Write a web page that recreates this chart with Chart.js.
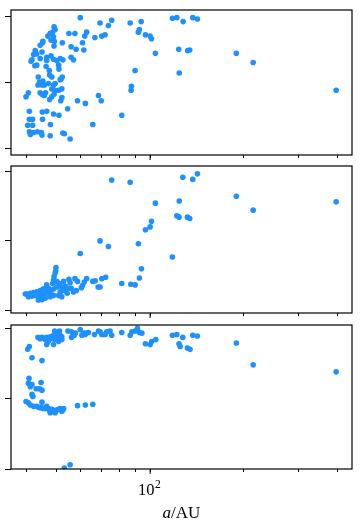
<!DOCTYPE html>
<html>
<head>
<meta charset="utf-8">
<script src="https://cdn.jsdelivr.net/npm/chart.js@4.4.1/dist/chart.umd.min.js"></script>
<style>
  html, body { margin: 0; padding: 0; background: #fff; }
  #wrap { position: relative; width: 363px; height: 528px; }
  #wrap canvas { position: absolute; left: 0; }
</style>
</head>
<body>
<div id="wrap">
  <canvas id="panelTop" width="363" height="160" style="top:0px"></canvas>
  <canvas id="panelMid" width="363" height="158" style="top:160px"></canvas>
  <canvas id="panelBot" width="363" height="210" style="top:318px"></canvas>
</div>
<script>
// ---- data (semi-major axis a in AU, y value per panel)
const aTop = [
  59.7, 69.1, 75.3, 73.5, 86.3, 93.6, 91.7, 92.4, 96.6, 100, 101, 104, 117.9, 121.8, 127.6,
  137, 141.8, 123.5, 132, 134, 124, 189, 214, 395, 89.5, 87.1, 86.9, 81.1, 68.3, 69.7,
  65.5, 62.0, 58.5, 54.4, 55.4, 52.5, 53.1, 51.0, 49.0, 47.9, 47.8, 46.6, 45.1, 45.2, 44.8,
  45.0, 43.5, 41.0, 41.0, 42.0, 40.5, 42.0, 41.0, 41.3, 42.3, 40.0, 40.7, 54.9, 57.4, 62.6,
  61.7, 66.5, 70.0, 71.7, 60.7, 61.3, 55.8, 57.9, 55.8, 56.8, 52.3,
  49.2, 49.6, 48.7, 47.8, 47.0, 49.0, 48.1, 49.3, 49.2, 45.2, 44.4, 45.3, 42.8, 43.3, 42.3,
  41.8, 41.5, 42.7, 43.3, 45.0, 44.4, 46.6, 48.1, 46.6, 49.0, 50.2, 51.5, 52.5, 50.9, 51.0,
  46.4, 47.5, 47.6, 48.4, 49.6, 49.0, 43.8, 44.2, 45.3, 45.0, 43.7, 45.8, 47.2, 48.4, 49.6,
  50.9, 52.1, 51.8, 52.3, 51.5, 44.4, 45.2, 45.8, 47.6, 48.4, 52.1, 51.7, 46.2, 49.2
];
const yTop = [
  0.99, 0.95, 0.97, 0.93, 0.95, 0.96, 0.88, 0.90, 0.86, 0.85, 0.83, 0.72, 0.985, 0.99, 0.96,
  0.99, 0.98, 0.75, 0.74, 0.745, 0.57, 0.72, 0.65, 0.44, 0.59, 0.47, 0.44, 0.25, 0.40, 0.36,
  0.18, 0.34, 0.36, 0.30, 0.07, 0.115, 0.11, 0.25, 0.26, 0.18, 0.095, 0.28, 0.275, 0.22, 0.12,
  0.10, 0.125, 0.28, 0.22, 0.22, 0.175, 0.175, 0.125, 0.105, 0.12, 0.39, 0.42, 0.87, 0.87, 0.88,
  0.85, 0.84, 0.85, 0.86, 0.80, 0.745, 0.77, 0.75, 0.69, 0.67, 0.80,
  0.92, 0.90, 0.88, 0.87, 0.85, 0.845, 0.82, 0.81, 0.775, 0.80, 0.78, 0.81, 0.74, 0.715, 0.71,
  0.67, 0.66, 0.625, 0.63, 0.73, 0.68, 0.69, 0.70, 0.665, 0.675, 0.665, 0.68, 0.67, 0.63, 0.60,
  0.62, 0.59, 0.555, 0.54, 0.49, 0.48, 0.54, 0.50, 0.51, 0.48, 0.48, 0.48, 0.49, 0.45, 0.44,
  0.44, 0.45, 0.525, 0.54, 0.52, 0.42, 0.405, 0.40, 0.37, 0.39, 0.385, 0.36, 0.42, 0.41
];

const aMid = [
  75.3, 86.3, 127.3, 137, 141.8, 189, 214, 395, 104, 124, 121.8, 123.8, 131.7, 134, 101,
  100, 96.6, 91.7, 69.1, 73.5, 59.7, 117.9, 93.8, 92.4, 86.7, 89.5, 81.1, 72, 70, 69.1,
  68.1, 66.7, 65.5, 62.6, 61.5, 60.7, 60.2, 57.4, 58.5, 54.9, 55.8, 56.8, 58.0, 55.4,
  49.9, 49.8, 49.6, 49.2, 49.0, 48.7,
  50.2, 51.2, 52.1, 52.8, 51.5, 50.9, 52.1, 50.2, 49.0, 47.8, 46.6, 45.4, 44.4, 43.8, 45.0,
  46.1, 47.8, 49.0, 47.2, 45.4, 44.4, 43.3, 42.3, 41.3, 40.2, 40.7, 41.8, 42.8, 43.8, 45.0,
  46.1, 46.6, 53.5, 54.2, 52.8, 54.7, 39.8
];
const yMid = [
  0.935, 0.92, 0.955, 0.94, 0.98, 0.82, 0.72, 0.78, 0.77, 0.785, 0.68, 0.67, 0.67, 0.66, 0.64,
  0.60, 0.58, 0.48, 0.50, 0.46, 0.41, 0.385, 0.30, 0.235, 0.19, 0.185, 0.195, 0.24, 0.23, 0.17,
  0.17, 0.215, 0.21, 0.23, 0.205, 0.18, 0.165, 0.23, 0.21, 0.225, 0.16, 0.135, 0.145, 0.20,
  0.31, 0.285, 0.27, 0.245, 0.22, 0.195,
  0.21, 0.195, 0.17, 0.145, 0.135, 0.11, 0.10, 0.17, 0.155, 0.135, 0.125, 0.11, 0.10, 0.077, 0.08,
  0.09, 0.10, 0.11, 0.16, 0.155, 0.145, 0.135, 0.13, 0.125, 0.12, 0.10, 0.105, 0.11, 0.125, 0.135,
  0.16, 0.185, 0.175, 0.125, 0.21, 0.16, 0.12
];

const aBot = [
  40.5, 41.0, 41.8, 45.0,
  43.7, 44.4, 45.4, 46.6, 47.8, 49.0, 50.2, 51.5, 52.1, 50.9, 49.6, 48.4, 47.2, 46.6, 49.0, 45.0, 46.1,
  49.4, 51.2, 51.5, 52.1, 50.2,
  54.5, 56.0, 56.8, 57.6, 59.7, 61.2, 62.4, 63.4, 56.0, 57.1, 60.4, 61.9,
  66.3, 68.3, 69.1, 70.0, 71.7, 72.6, 74.4, 75.3, 81.1, 86.3, 87.4, 89.5, 91.1, 92.4, 94.1, 96.6, 100, 101.2, 104.3,
  117.9, 121.8, 127.3, 123.8, 124.8, 137, 141.8, 131.7, 134.3, 189, 214, 395,
  40.9, 40.7, 41.8, 41.3, 44.7, 45.0, 43.1, 44.2, 41.8, 42.1, 45.0, 40.0, 40.7, 41.3, 42.3,
  43.3, 44.4, 45.4, 46.6, 47.2, 47.8, 49.0, 50.2, 51.5, 52.8, 52.1, 49.6, 47.8, 58.5, 62.0,
  65.5, 53.1, 55.4,
  43.8, 45.0, 46.1, 47.5, 48.4, 49.6, 50.9, 52.5
];
const yBot = [
  0.85, 0.87, 0.79, 0.77,
  0.935, 0.925, 0.93, 0.935, 0.94, 0.95, 0.94, 0.93, 0.92, 0.905, 0.92, 0.925, 0.91, 0.885, 0.885, 0.935, 0.92,
  0.98, 0.98, 0.95, 0.94, 0.965,
  0.98, 0.975, 0.95, 0.965, 0.99, 0.965, 0.965, 0.97, 0.935, 0.95, 0.95, 0.955,
  0.955, 0.98, 0.975, 0.955, 0.955, 0.975, 0.98, 0.95, 0.97, 0.95, 0.975, 0.98, 1.0, 0.97, 0.965, 0.89, 0.885, 0.905, 0.92,
  0.95, 0.955, 0.935, 0.89, 0.87, 0.95, 0.945, 0.86, 0.85, 0.895, 0.74, 0.69,
  0.645, 0.61, 0.60, 0.585, 0.615, 0.56, 0.57, 0.57, 0.53, 0.515, 0.475, 0.48, 0.47, 0.455, 0.445,
  0.445, 0.435, 0.43, 0.445, 0.43, 0.41, 0.415, 0.42, 0.43, 0.43, 0.41, 0.40, 0.40, 0.45, 0.455,
  0.46, 0.007, 0.03,
  0.44, 0.435, 0.43, 0.42, 0.425, 0.41, 0.425, 0.42
];

const xTicks = [40, 50, 60, 70, 80, 90, 100, 200, 300, 400];
const yTicks = [0, 0.5, 1];
const X_MIN = 35.8, X_MAX = 444;
const DOT = "#1E90FF";

// frame on all four sides + the longer major tick at 10^2
const framePlugin = {
  id: "frame",
  afterDatasetsDraw(chart) {
    const { ctx, chartArea } = chart;
    const { left, top, right, bottom } = chartArea;
    ctx.save();
    ctx.strokeStyle = "#000";
    ctx.lineWidth = 1.2;
    ctx.strokeRect(left, top, right - left, bottom - top);
    const px = chart.scales.x.getPixelForValue(100);
    ctx.lineWidth = 1;
    ctx.beginPath();
    ctx.moveTo(px, bottom);
    ctx.lineTo(px, bottom + 5);
    ctx.stroke();
    ctx.restore();
  }
};

// "10^2" tick label and "a/AU" axis title under the last panel
const xLabelPlugin = {
  id: "xLabel",
  afterDraw(chart) {
    const { ctx, chartArea } = chart;
    const px = chart.scales.x.getPixelForValue(100);
    const base = chartArea.bottom;
    ctx.save();
    ctx.fillStyle = "#000";
    ctx.textBaseline = "alphabetic";
    ctx.textAlign = "left";
    ctx.font = "16.5px 'Liberation Serif'";
    const w10 = ctx.measureText("10").width;
    ctx.font = "11.5px 'Liberation Serif'";
    const w2 = ctx.measureText("2").width;
    const x0 = px - (w10 + w2) / 2 - 1;
    ctx.font = "16.5px 'Liberation Serif'";
    ctx.fillText("10", x0, base + 26);
    ctx.font = "11.5px 'Liberation Serif'";
    ctx.fillText("2", x0 + w10 + 0.5, base + 19);

    const cx = (chartArea.left + chartArea.right) / 2;
    ctx.font = "italic 17px 'Liberation Serif'";
    const wa = ctx.measureText("a").width;
    ctx.font = "17px 'Liberation Serif'";
    const wr = ctx.measureText("/AU").width;
    const sx = cx - (wa + wr) / 2;
    ctx.font = "italic 17px 'Liberation Serif'";
    ctx.fillText("a", sx, base + 49);
    ctx.font = "17px 'Liberation Serif'";
    ctx.fillText("/AU", sx + wa, base + 49);
    ctx.restore();
  }
};

function makePanel(canvasId, aVals, yVals, opt) {
  const points = aVals.map((a, i) => ({ x: a, y: yVals[i] }));
  return new Chart(document.getElementById(canvasId), {
    type: "scatter",
    data: {
      datasets: [{
        data: points,
        backgroundColor: DOT,
        borderWidth: 0,
        pointRadius: 2.8,
        clip: 0
      }]
    },
    options: {
      responsive: false,
      animation: false,
      events: [],
      layout: { padding: { left: 0, right: 11, top: opt.padTop, bottom: 0 } },
      plugins: { legend: { display: false }, tooltip: { enabled: false } },
      scales: {
        x: {
          type: "logarithmic",
          min: X_MIN,
          max: X_MAX,
          afterBuildTicks(scale) { scale.ticks = xTicks.map(v => ({ value: v })); },
          afterFit(scale) { scale.height = opt.xAxisHeight; },
          ticks: { display: false },
          grid: { drawOnChartArea: false, drawTicks: true, tickLength: 3, tickColor: "#000", tickWidth: 1 },
          border: { display: false }
        },
        y: {
          min: opt.yMin,
          max: opt.yMax,
          afterBuildTicks(scale) { scale.ticks = yTicks.map(v => ({ value: v })); },
          afterFit(scale) { scale.width = 11; },
          ticks: { display: false },
          grid: { drawOnChartArea: false, drawTicks: true, tickLength: 6, tickColor: "#000", tickWidth: 1 },
          border: { display: false }
        }
      }
    },
    plugins: [framePlugin].concat(opt.extra || [])
  });
}

makePanel("panelTop", aTop, yTop, { padTop: 10, xAxisHeight: 5, yMin: -0.051, yMax: 1.048 });
makePanel("panelMid", aMid, yMid, { padTop: 6, xAxisHeight: 5, yMin: -0.016, yMax: 1.036 });
makePanel("panelBot", aBot, yBot, { padTop: 7, xAxisHeight: 59, yMin: 0, yMax: 1.023, extra: [xLabelPlugin] });
</script>
</body>
</html>
